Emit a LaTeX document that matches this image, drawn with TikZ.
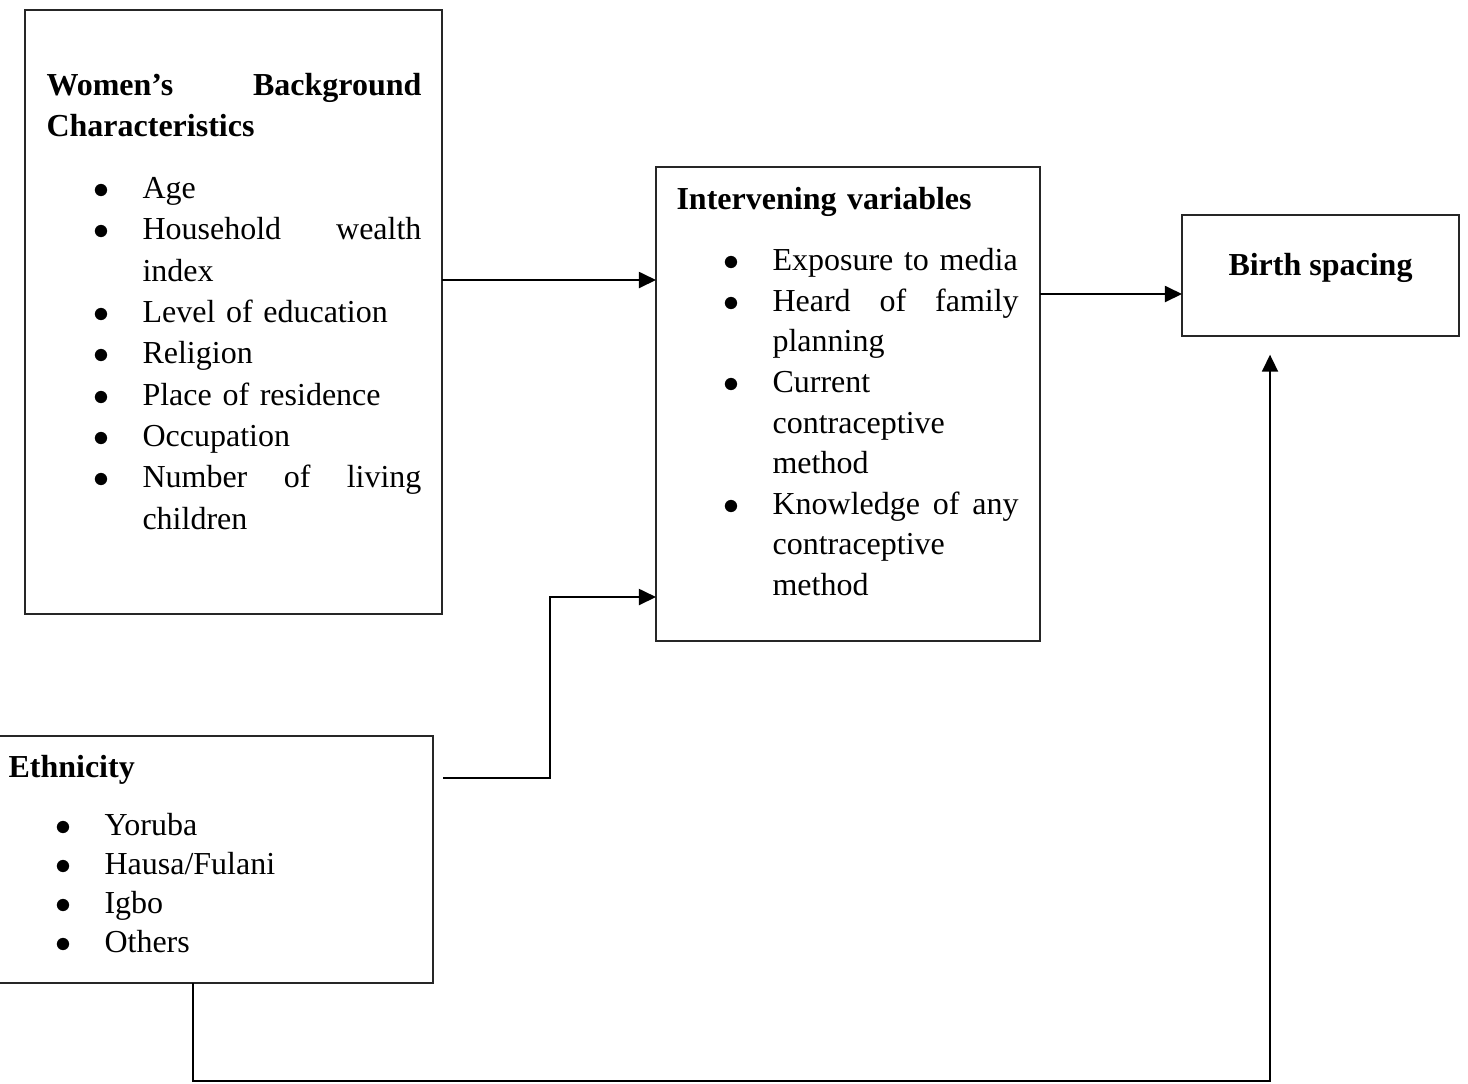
\documentclass[tikz,border=0pt]{standalone}
\usepackage{fontspec}
\setmainfont{Liberation Serif}
\usepackage{tikz}
\usetikzlibrary{arrows.meta, calc, positioning}

\newcommand{\pxu}{0.375pt}
\newcommand{\bitem}{\hspace*{17.6pt}\makebox[18.4pt][l]{$\bullet$}}
\newcommand{\bcont}{\hspace*{36pt}}

\begin{document}
\begin{tikzpicture}[
    x=\pxu, y=-\pxu,
    box/.style={rectangle, draw=black!85, line width=0.8pt, inner sep=0pt, outer sep=0pt, anchor=north west},
    listtext/.style={anchor=base west, inner sep=0pt, align=left},
    arrow/.style={-{Triangle[length=6.4pt, width=6pt]}, line width=0.75pt}
]
    \useasboundingbox (0,0) rectangle (1468,1083);

    % background characteristics
    \node[box, minimum width=417*\pxu, minimum height=604*\pxu] (bgbox) at (25,10) {};
    \node[listtext, text width=140.6pt, font=\fontsize{12}{15.5}\selectfont] (bgtext) at (46,95) {%
        \textbf{Women's\hfill Background}\\
        \textbf{Characteristics}\\[7.75pt]
        \bitem Age\\
        \bitem Household\hfill wealth\\
        \bcont index\\
        \bitem Level of education\\
        \bitem Religion\\
        \bitem Place of residence\\
        \bitem Occupation\\
        \bitem Number\hfill of\hfill living\\
        \bcont children};

    % intervening variables
    \node[box, minimum width=384*\pxu, minimum height=474*\pxu] (ivbox) at (656,167) {};
    \node[listtext, text width=128.3pt, font=\fontsize{12}{15.2}\selectfont] (ivtext) at (676,209) {%
        \textbf{Intervening variables}\\[8pt]
        \bitem Exposure to media\\
        \bitem Heard\hfill of\hfill family\\
        \bcont planning\\
        \bitem Current\\
        \bcont contraceptive\\
        \bcont method\\
        \bitem Knowledge\hfill of\hfill any\\
        \bcont contraceptive\\
        \bcont method};

    % outcome
    \node[box, minimum width=277*\pxu, minimum height=121*\pxu, text height=4pt, text depth=4pt,
          font=\bfseries\fontsize{12}{14}\selectfont] (bsbox) at (1182,215) {Birth spacing};

    % ethnicity
    \node[box, minimum width=438*\pxu, minimum height=247*\pxu] (ethbox) at (-5,736) {};
    \node[listtext, text width=112pt, font=\fontsize{12}{14.6}\selectfont] (ethtext) at (8,777) {%
        \textbf{Ethnicity}\\[7.5pt]
        \bitem Yoruba\\
        \bitem Hausa/Fulani\\
        \bitem Igbo\\
        \bitem Others};

    % connections
    \draw[arrow] (bgbox.east |- 0,280) -- (ivbox.west |- 0,280);
    \draw[arrow] (ivbox.east |- 0,294) -- (bsbox.west |- 0,294);
    \draw[arrow, shorten <=3.75pt] (ethbox.east |- 0,778) -- ++(117,0) |- (ivbox.west |- 0,597);
    \draw[arrow, shorten >=7pt] (ethbox.south -| 193,0) |- (1270,1081) -- (bsbox.south -| 1270,0);
\end{tikzpicture}
\end{document}
